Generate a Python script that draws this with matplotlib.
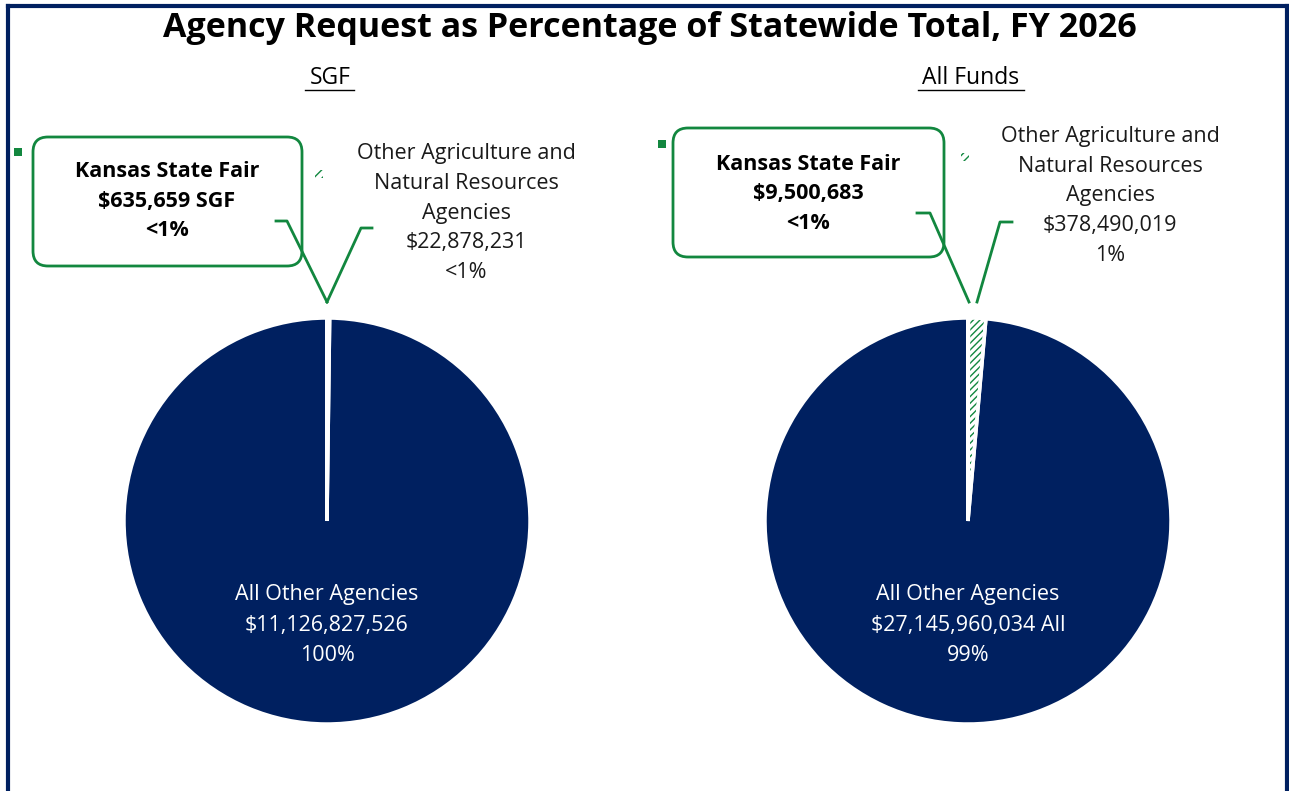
import matplotlib.pyplot as plt
from matplotlib.patches import FancyBboxPatch, Rectangle
from matplotlib.lines import Line2D

plt.rcParams['font.family'] = ['Open Sans', 'DejaVu Sans']

W, H = 1289, 791

title = "Agency Request as Percentage of Statewide Total, FY 2026"
panels = ["SGF", "All Funds"]
slice_names = ["Kansas State Fair", "Other Agriculture and Natural Resources Agencies", "All Other Agencies"]
sgf_values = [635659, 22878231, 11126827526]
all_values = [9500683, 378490019, 27145960034]

fair_labels = ["Kansas State Fair\n$635,659 SGF\n<1%", "Kansas State Fair\n$9,500,683\n<1%"]
ag_labels = ["Other Agriculture and\nNatural Resources\nAgencies\n$22,878,231\n<1%",
             "Other Agriculture and\nNatural Resources\nAgencies\n$378,490,019\n1%"]
rest_labels = ["All Other Agencies\n$11,126,827,526\n100%", "All Other Agencies\n$27,145,960,034 All\n99%"]

navy = "#002060"
green = "#12873F"


def fy(y):
    # pixel row from top -> data y
    return H - y


fig = plt.figure(figsize=(W / 100, H / 100), dpi=100)
ax = fig.add_axes([0, 0, 1, 1])

# frame
ax.add_line(Line2D([8, 8], [0, fy(6)], color=navy, lw=3))
ax.add_line(Line2D([8, 1287], [fy(6), fy(6)], color=navy, lw=3))
ax.add_line(Line2D([1287, 1287], [0, fy(6)], color=navy, lw=3))

ax.text(650, fy(28), title, ha="center", va="center", fontsize=24.5, fontweight="bold", color="black")

centers = [(327, 521), (968, 521)]
radius = 203
for i, vals in enumerate([sgf_values, all_values]):
    cx, cy = centers[i]
    wedges, _ = ax.pie(vals, colors=[green, "white", navy], startangle=90, counterclock=False,
                       center=(cx, fy(cy)), radius=radius, frame=False,
                       wedgeprops=dict(linewidth=0))
    wedges[1].set_edgecolor(green)
    wedges[1].set_hatch("/////")
    # white separators on top
    ax.pie(vals, colors=["none"] * 3, startangle=90, counterclock=False,
           center=(cx, fy(cy)), radius=radius, frame=False,
           wedgeprops=dict(linewidth=2.5, edgecolor="white", fill=False))

ax.set_xlim(0, W)
ax.set_ylim(0, H)
ax.set_aspect("auto")
ax.axis("off")

# panel subtitles with underline
sub_x = [330, 971]
ul = [(305, 354), (918, 1024)]
for i in range(2):
    ax.text(sub_x[i], fy(78), panels[i], ha="center", va="center", fontsize=16.5, color="black")
    ax.add_line(Line2D(ul[i], [fy(90), fy(90)], color="black", lw=1))

# callout boxes for the fair
boxes = [(33, 137, 269, 129), (673, 128, 271, 129)]
fair_text = [(167, 201), (808, 194)]
for i in range(2):
    x0, y0, bw, bh = boxes[i]
    ax.add_patch(FancyBboxPatch((x0 + 15, fy(y0 + bh) + 15), bw - 30, bh - 30,
                                boxstyle="round,pad=15", fc="white", ec=green, lw=2))
    ax.text(fair_text[i][0], fy(fair_text[i][1]), fair_labels[i], ha="center", va="center",
            fontsize=15.5, fontweight="bold", color="black", linespacing=1.55)

# ag labels
ag_text = [(466, 213), (1110, 196)]
for i in range(2):
    ax.text(ag_text[i][0], fy(ag_text[i][1]), ag_labels[i], ha="center", va="center",
            fontsize=15.5, color="#1a1a1a", linespacing=1.55)

# rest labels
for i in range(2):
    ax.text(centers[i][0], fy(625), rest_labels[i], ha="center", va="center",
            fontsize=15.5, color="white", linespacing=1.6)

# leader lines
leaders = [
    [(276, 221), (287, 221), (327, 302)],
    [(372, 228), (361, 228), (327, 302)],
    [(917, 213), (930, 213), (969, 302)],
    [(1012, 222), (1000, 222), (977, 302)],
]
for pts in leaders:
    ax.add_line(Line2D([p[0] for p in pts], [fy(p[1]) for p in pts], color=green, lw=2))

# legend keys beside labels
for (kx, ky) in [(18, 152), (662, 144)]:
    ax.add_patch(Rectangle((kx - 4, fy(ky) - 4), 8, 8, fc=green, ec="none"))
for (kx, ky) in [(319, 174), (965, 157)]:
    ax.add_patch(Rectangle((kx - 4, fy(ky) - 4), 8, 8, fc="white", ec=green, lw=0, hatch="////"))

fig.savefig("out.png", dpi=100)
